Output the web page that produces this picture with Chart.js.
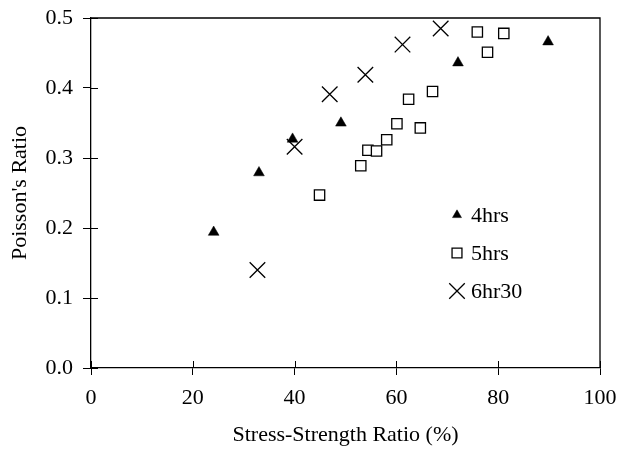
<!DOCTYPE html>
<html>
<head>
<meta charset="utf-8">
<script src="https://cdn.jsdelivr.net/npm/chart.js@4.4.1/dist/chart.umd.min.js"></script>
<style>
  html, body { margin: 0; padding: 0; background: #fff; }
  #wrap { width: 619px; height: 450px; }
</style>
</head>
<body>
<div id="wrap"><canvas id="chart" width="619" height="450"></canvas></div>
<script>
// 4hrs
const x4hrs = [24.1, 33.0, 39.6, 49.1, 72.1, 89.8];
const y4hrs = [0.194, 0.279, 0.327, 0.350, 0.436, 0.466];
// 5hrs
const x5hrs = [44.9, 53.0, 54.4, 56.1, 58.1, 60.1, 62.4, 64.7, 67.1, 75.9, 77.9, 81.1];
const y5hrs = [0.247, 0.289, 0.311, 0.310, 0.326, 0.349, 0.384, 0.343, 0.395, 0.480, 0.451, 0.478];
// 6hr30
const x6hr30 = [32.7, 40.0, 46.9, 53.9, 61.2, 68.7];
const y6hr30 = [0.140, 0.316, 0.391, 0.419, 0.462, 0.485];

const seriesNames = ['4hrs', '5hrs', '6hr30'];
const xTitle = 'Stress-Strength Ratio (%)';
const yTitle = "Poisson's Ratio";

const pts = (xs, ys) => xs.map((x, i) => ({ x: x, y: ys[i] }));
const FONT = 'Liberation Serif, Times New Roman, serif';
const FSIZE = 22;

// cadre du graphique + petites graduations vers l'intérieur
const framePlugin = {
    id: 'frame',
    afterDraw(chart) {
        const { ctx, chartArea: a, scales } = chart;
        ctx.save();
        ctx.strokeStyle = '#000';
        ctx.lineWidth = 1.3;
        ctx.beginPath();
        ctx.moveTo(a.left, a.top);
        ctx.lineTo(a.right, a.top);
        ctx.lineTo(a.right, a.bottom);
        ctx.stroke();
        ctx.lineWidth = 1;
        ctx.beginPath();
        scales.x.ticks.forEach(t => {
            const px = Math.round(scales.x.getPixelForValue(t.value)) + 0.5;
            ctx.moveTo(px, a.bottom);
            ctx.lineTo(px, a.bottom - 7);
        });
        scales.y.ticks.forEach(t => {
            const py = Math.round(scales.y.getPixelForValue(t.value)) + 0.5;
            ctx.moveTo(a.left, py);
            ctx.lineTo(a.left + 7, py);
        });
        ctx.stroke();
        ctx.restore();
    }
};

// légende dans la zone du graphique
const legendPlugin = {
    id: 'innerLegend',
    afterDraw(chart) {
        const ctx = chart.ctx;
        const lx = 457, ly = 215, gap = 38;
        ctx.save();
        chart.data.datasets.forEach((ds, i) => {
            const y = ly + i * gap;
            ctx.fillStyle = ds.backgroundColor;
            ctx.strokeStyle = ds.borderColor;
            ctx.lineWidth = ds.borderWidth;
            Chart.helpers.drawPoint(ctx, {
                pointStyle: ds.pointStyle,
                radius: ds.legendRadius,
                rotation: 0,
                borderWidth: ds.borderWidth
            }, lx, y);
            ctx.fillStyle = '#000';
            ctx.font = FSIZE + 'px ' + FONT;
            ctx.textBaseline = 'middle';
            ctx.textAlign = 'left';
            ctx.fillText(ds.label, lx + 14, y + 1);
        });
        ctx.restore();
    }
};

new Chart(document.getElementById('chart'), {
    type: 'scatter',
    data: {
        datasets: [
            {
                label: seriesNames[0],
                data: pts(x4hrs, y4hrs),
                pointStyle: 'triangle',
                pointRadius: 6.2,
                legendRadius: 5.2,
                backgroundColor: '#000',
                borderColor: '#000',
                borderWidth: 0.5
            },
            {
                label: seriesNames[1],
                data: pts(x5hrs, y5hrs),
                pointStyle: 'rect',
                pointRadius: 7.3,
                legendRadius: 7,
                backgroundColor: '#fff',
                borderColor: '#000',
                borderWidth: 1.3
            },
            {
                label: seriesNames[2],
                data: pts(x6hr30, y6hr30),
                pointStyle: 'crossRot',
                pointRadius: 11,
                legendRadius: 11,
                backgroundColor: '#000',
                borderColor: '#000',
                borderWidth: 1.3
            }
        ]
    },
    options: {
        responsive: false,
        animation: false,
        layout: { padding: { left: 0, top: 18, right: 19, bottom: 0 } },
        plugins: {
            legend: { display: false },
            tooltip: { enabled: false }
        },
        scales: {
            x: {
                type: 'linear',
                min: 0,
                max: 100,
                afterFit(scale) {
                    scale.height = 82;
                    scale.paddingLeft = 0;
                    scale.paddingRight = 0;
                },
                ticks: {
                    stepSize: 20,
                    color: '#000',
                    padding: 10,
                    maxRotation: 0,
                    font: { family: FONT, size: FSIZE }
                },
                grid: { display: true, drawOnChartArea: false, drawTicks: true, tickLength: 7, color: '#000', lineWidth: 1 },
                border: { display: true, color: '#000', width: 1.3 },
                title: {
                    display: true,
                    text: xTitle,
                    color: '#000',
                    font: { family: FONT, size: FSIZE },
                    padding: { top: 0, bottom: 2 }
                }
            },
            y: {
                type: 'linear',
                min: 0,
                max: 0.5,
                afterFit(scale) {
                    scale.width = 91;
                    scale.paddingTop = 0;
                    scale.paddingBottom = 0;
                },
                ticks: {
                    stepSize: 0.1,
                    color: '#000',
                    padding: 10,
                    font: { family: FONT, size: FSIZE },
                    callback: v => v.toFixed(1)
                },
                grid: { display: true, drawOnChartArea: false, drawTicks: true, tickLength: 8, color: '#000', lineWidth: 1 },
                border: { display: true, color: '#000', width: 1.3 },
                title: {
                    display: true,
                    text: yTitle,
                    color: '#000',
                    font: { family: FONT, size: FSIZE },
                    padding: { top: 7.5, bottom: 0 }
                }
            }
        }
    },
    plugins: [framePlugin, legendPlugin]
});
</script>
</body>
</html>
